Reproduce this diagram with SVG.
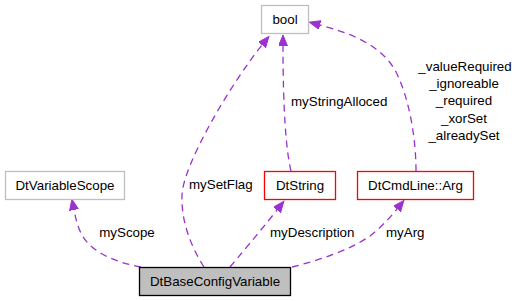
<svg xmlns="http://www.w3.org/2000/svg" width="516" height="301" viewBox="0 0 516 301">
<style>
text{font-family:"Liberation Sans",Arial,sans-serif;font-size:13.33px;fill:#000}
.n{text-anchor:middle}
.e{fill:none;stroke:#9a32cd;stroke-width:1.3;stroke-dasharray:7,5}
.g{fill:#fff;stroke:#bfbfbf;stroke-width:1.3}
.r{fill:#fff;stroke:#ff0000;stroke-width:1.3}
</style>
<defs>
<marker id="ah" markerUnits="userSpaceOnUse" markerWidth="13" markerHeight="11" refX="0" refY="4.5" orient="auto">
<path d="M0,0 L11,4.5 L0,9 z" fill="#9a32cd" stroke="#9a32cd" stroke-width="1"/>
</marker>
</defs>
<rect width="516" height="301" fill="#fff"/>
<g id="connectors">
<path class="e" d="M141,267 C112,262 90,250 82,235 C78,228 76,220 74,210" marker-end="url(#ah)"/>
<text class="n" x="127" y="237">myScope</text>
<path class="e" d="M204,267 C190,245 181,220 182,195 C183,165 230,85 262,45" marker-end="url(#ah)"/>
<text x="189" y="189">mySetFlag</text>
<path class="e" d="M291,171 C286,150 283,110 283,46" marker-end="url(#ah)"/>
<text x="291" y="105.5">myStringAlloced</text>
<path class="e" d="M416,171 C416,140 410,100 396,72 C382,45 350,33 320,25" marker-end="url(#ah)"/>
<text class="n" x="465" y="71">_valueRequired</text>
<text class="n" x="464" y="88">_ignoreable</text>
<text class="n" x="464" y="105">_required</text>
<text class="n" x="464" y="122.5">_xorSet</text>
<text class="n" x="464" y="140">_alreadySet</text>
<path class="e" d="M230,267 C240,255 258,234 277,210" marker-end="url(#ah)"/>
<text x="270" y="237">myDescription</text>
<path class="e" d="M292,267 C320,260 350,250 370,236 C380,228 389,219 397,209" marker-end="url(#ah)"/>
<text x="386" y="237">myArg</text>
</g>
<g id="bool">
<rect class="g" x="261.5" y="5.5" width="47" height="28"/>
<text class="n" x="285" y="24">bool</text>
</g>
<g id="DtVariableScope">
<rect class="g" x="5.5" y="171.5" width="119" height="28"/>
<text class="n" x="65" y="190">DtVariableScope</text>
</g>
<g id="DtString">
<rect class="r" x="264.5" y="171.5" width="71" height="28"/>
<text class="n" x="300" y="190">DtString</text>
</g>
<g id="DtCmdLineArg">
<rect class="r" x="357.5" y="171.5" width="116" height="28"/>
<text class="n" x="415.5" y="190">DtCmdLine::Arg</text>
</g>
<g id="DtBaseConfigVariable">
<rect x="139.5" y="267.5" width="151" height="28" fill="#bfbfbf" stroke="#000" stroke-width="1.3"/>
<text class="n" x="215" y="286">DtBaseConfigVariable</text>
</g>
</svg>
